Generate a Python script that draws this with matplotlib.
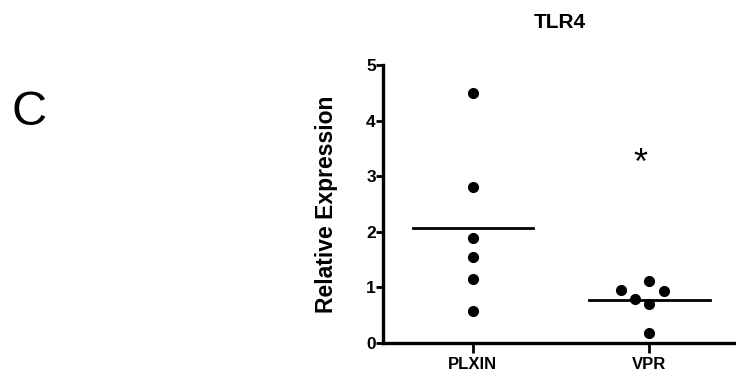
import matplotlib
matplotlib.use("Agg")
import matplotlib.pyplot as plt

plt.rcParams['font.family'] = ['Liberation Sans', 'DejaVu Sans']

# data
groups = ["PLXIN", "VPR"]
plxin_vals = [4.49, 2.81, 1.89, 1.54, 1.16, 0.58]
plxin_offsets = [0, 0, 0, 0, 0, 0]
vpr_vals = [1.11, 0.95, 0.93, 0.80, 0.71, 0.18]
vpr_offsets = [0, -0.16, 0.08, -0.08, 0, 0]
centre_lines = [2.07, 0.77]
yticks = [0, 1, 2, 3, 4, 5]

fig = plt.figure(figsize=(7.36, 3.81), dpi=100)
ax = fig.add_axes([0.521, 0.0997, 0.479, 0.7293])

# scatter points
ax.plot([0 + o for o in plxin_offsets], plxin_vals, 'o', color='black', ms=7, zorder=3, clip_on=False)
ax.plot([1 + o for o in vpr_offsets], vpr_vals, 'o', color='black', ms=7, zorder=3, clip_on=False)

# mean / median bars
for i, v in enumerate(centre_lines):
    ax.plot([i - 0.34, i + 0.34], [v, v], color='black', lw=2, zorder=2)

# significance mark
ax.text(0.95, 3.22, '*', ha='center', va='center', fontsize=26, color='black')

ax.set_xlim(-0.506, 1.49)
ax.set_ylim(0, 5)
ax.set_xticks([0, 1])
ax.set_xticklabels(groups, fontsize=12, fontweight='bold')
ax.set_yticks(yticks)
ax.set_yticklabels([str(t) for t in yticks], fontsize=12.5, fontweight='bold')
ax.tick_params(axis='y', length=5, width=2, pad=0.5)
ax.tick_params(axis='x', length=7, width=2, pad=3)

for s in ['top', 'right']:
    ax.spines[s].set_visible(False)
for s in ['left', 'bottom']:
    ax.spines[s].set_linewidth(2.4)

ax.set_ylabel('Relative Expression', fontsize=16.5, fontweight='bold', labelpad=20)
fig.text(0.761, 0.94, 'TLR4', ha='center', va='center', fontsize=15, fontweight='bold')
fig.text(0.039, 0.706, 'C', ha='center', va='center', fontsize=35)

fig.savefig('out.png', dpi=100)
